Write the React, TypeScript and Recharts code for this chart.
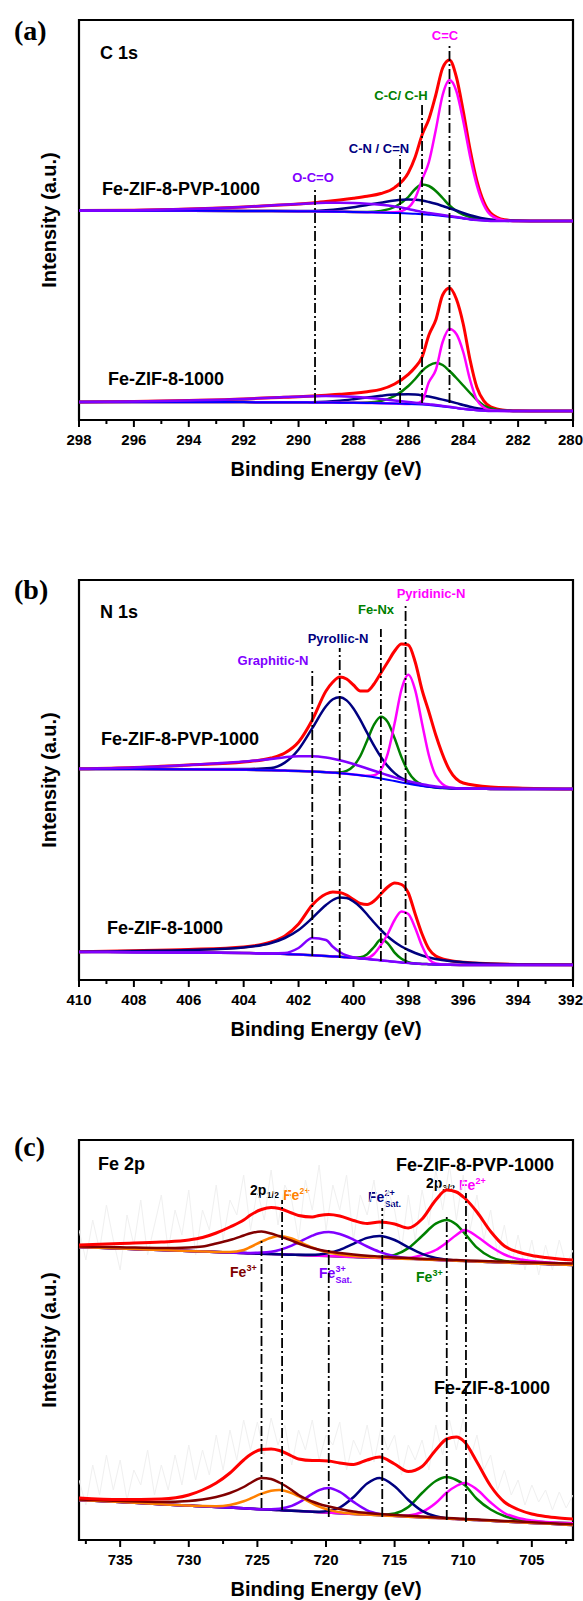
import React from 'react';
import { LineChart, Line, XAxis, YAxis, ReferenceLine, ReferenceArea } from 'recharts';

const SANS = "'Liberation Sans', Arial, Helvetica, sans-serif";
const SERIF = "'Liberation Serif', 'Times New Roman', Times, serif";

const COL = {
  red: '#ff0000', magenta: '#ff00ff', green: '#008000', navy: '#000080',
  violet: '#8000ff', blue: '#0000ff', orange: '#ff8000', wine: '#800000', noise: '#f0f0f0',
};

// ---------- Panel (a): C 1s ----------
const energyA = [298, 296, 294, 292, 291, 290, 289.5, 289, 288.5, 288, 287.5, 287, 286.5, 286, 285.75, 285.5, 285.25, 285, 284.75, 284.5, 284.25, 284, 283.75, 283.5, 283.25, 283, 282.5, 282, 281, 280];
const ticksA = [298, 297, 296, 295, 294, 293, 292, 291, 290, 289, 288, 287, 286, 285, 284, 283, 282, 281, 280];

const aPvpRed = [209.5, 209.8, 211, 213, 214.5, 216, 217.1, 218.5, 220, 221.7, 223.7, 226.5, 232.4, 247.3, 263, 285, 301, 325, 352, 360, 343, 309, 270.4, 238.9, 218.1, 207, 200.3, 199.2, 199, 199];
const aPvpCeqC = [209.3, 209.3, 209.2, 209.1, 209, 208.8, 208.7, 208.5, 208.3, 208.1, 207.8, 207.5, 207.7, 212.6, 221.9, 240.3, 258, 290, 325, 340, 329, 299, 263.6, 234.4, 215, 205, 199.6, 199, 199, 199];
const aPvpCC = [209.3, 209.3, 209.2, 209.1, 209, 208.8, 208.7, 208.5, 208.3, 208.1, 208, 209, 213, 223, 231, 235.5, 234, 229, 222, 214.5, 209, 205.5, 203, 201.3, 200.3, 199.6, 199.2, 199, 199, 199];
const aPvpCN = [209.3, 209.3, 209.2, 209.1, 209, 208.9, 209.1, 209.8, 211, 212.8, 215, 217.3, 219.5, 220.5, 220.3, 219.5, 218, 216.2, 214, 211.8, 209.5, 207, 204.8, 203, 201.5, 200.5, 199.5, 199.2, 199, 199];
const aPvpOCO = [209.3, 209.8, 211, 213, 214.5, 216, 216.8, 217.2, 217.3, 217, 216.3, 215.2, 213.5, 211, 209.5, 208, 207, 206, 205, 204, 203, 201.8, 200.8, 200, 199.4, 199.1, 199, 199, 199, 199];
const aPvpBase = [209.3, 209.3, 209.2, 209.1, 209, 208.8, 208.7, 208.5, 208.3, 208.1, 207.8, 207.5, 207.1, 206.6, 206.2, 205.8, 205.3, 204.8, 204.1, 203.3, 202.4, 201.5, 200.6, 199.9, 199.4, 199.1, 199, 199, 199, 199];

const aZifRed = [18, 18.5, 19.5, 21, 22.3, 23.3, 24, 24.8, 25.8, 26.8, 28.3, 30.6, 36, 45.6, 52.7, 62.9, 85, 100, 125, 132, 121, 96, 60, 32.4, 19.1, 13.1, 9.8, 9.2, 9, 9];
const aZifCeqC = [18, 18, 18, 17.9, 17.8, 17.7, 17.6, 17.5, 17.3, 17.2, 17, 16.8, 16.5, 16.1, 16.5, 19, 38, 50, 78, 91, 86, 68, 40, 20, 12.5, 9.8, 9, 9, 9, 9];
const aZifCC = [18, 18, 18, 17.9, 17.8, 17.7, 17.6, 17.5, 17.3, 17.2, 17.5, 19, 24, 34, 41, 49, 54.5, 57, 55, 49, 42, 34.5, 27, 20, 14.5, 11.5, 9.5, 9, 9, 9];
const aZifCN = [18, 18, 18, 17.9, 17.8, 17.7, 17.8, 18.3, 19.3, 20.8, 22.5, 24.2, 25.5, 25.8, 25.4, 24.6, 23.4, 22, 20.4, 18.7, 16.9, 15, 13.3, 11.8, 10.7, 10, 9.3, 9, 9, 9];
const aZifOCO = [18, 18.5, 19.5, 21, 22.3, 23.3, 23.8, 24, 23.8, 23.2, 22.3, 21, 19.5, 18, 17.2, 16.5, 15.7, 15, 14.1, 13.2, 12.2, 11.2, 10.4, 9.8, 9.4, 9.1, 9, 9, 9, 9];
const aZifBase = [18, 18, 18, 17.9, 17.8, 17.7, 17.6, 17.5, 17.3, 17.2, 17, 16.8, 16.5, 16.1, 15.8, 15.4, 14.9, 14.3, 13.6, 12.8, 11.9, 11, 10.3, 9.7, 9.3, 9.1, 9, 9, 9, 9];

const refLinesA = [
  { e: 289.4, from: 17, to: 230 },
  { e: 286.3, from: 17, to: 265 },
  { e: 285.5, from: 17, to: 318 },
  { e: 284.5, from: 17, to: 374 },
];

// ---------- Panel (b): N 1s ----------
const energyB = [410, 408, 406, 404, 403, 402.5, 402, 401.5, 401, 400.75, 400.5, 400.25, 400, 399.75, 399.5, 399.25, 399, 398.75, 398.5, 398.25, 398, 397.75, 397.5, 397.25, 397, 396.5, 396, 395, 394, 392];
const ticksB = [410, 409, 408, 407, 406, 405, 404, 403, 402, 401, 400, 399, 398, 397, 396, 395, 394, 393, 392];

const bPvpRed = [211.2, 212.5, 215, 218, 222, 227, 238, 260, 289, 298, 303, 301, 295, 289, 289, 296, 307, 318, 329, 336, 335, 318, 290, 268, 245, 210, 197, 193, 192, 191];
const bPvpPyridinic = [211, 211, 210.8, 210.3, 209.8, 209.4, 209, 208.5, 207.8, 207.3, 206.8, 206.2, 205.5, 204.7, 204.2, 204.8, 210.2, 226.4, 256.7, 290.5, 305.2, 289.8, 256.6, 224.5, 204.4, 192.5, 191.4, 191.1, 191, 191];
const bPvpFeNx = [211, 211, 210.8, 210.3, 209.8, 209.4, 209, 208.5, 207.8, 207.5, 207.6, 209.1, 213.9, 224, 239.6, 255.4, 263.3, 257.9, 241.8, 222.9, 208.2, 199.5, 195.4, 193.5, 192.6, 191.8, 191.4, 191.1, 191, 191];
const bPvpPyrrolic = [211, 211, 210.8, 210.9, 212.1, 217.4, 230.5, 251.8, 273.8, 280.7, 282.8, 279.6, 271.5, 260.1, 247.1, 234.4, 223.1, 213.9, 206.9, 201.9, 198.5, 196.1, 194.5, 193.4, 192.7, 191.8, 191.4, 191.1, 191, 191];
const bPvpGraphitic = [211.2, 212.5, 215, 218.5, 221, 222.8, 223.8, 223.8, 222.5, 221.3, 219.8, 218, 216, 213.8, 211.5, 209.2, 207, 204.8, 202.6, 200.6, 198.8, 197.2, 195.8, 194.6, 193.6, 192.3, 191.6, 191.2, 191, 191];
const bPvpBase = [211, 211, 210.8, 210.3, 209.8, 209.4, 209, 208.5, 207.8, 207.3, 206.8, 206.2, 205.5, 204.7, 203.8, 202.8, 201.6, 200.3, 198.9, 197.5, 196.2, 195, 194, 193.2, 192.6, 191.8, 191.4, 191.1, 191, 191];

const bZifRed = [28.3, 29.2, 30.5, 33, 38, 44, 56, 75, 86, 88, 87.5, 85, 80.5, 76.5, 75.5, 79, 86, 93, 97, 95.5, 87, 66, 46, 31, 24, 19.5, 17.8, 16.3, 15.6, 15.2];
const bZifPyridinic = [28, 27.8, 27.5, 27, 26.5, 26, 25.5, 24.8, 24, 23.6, 23.2, 22.7, 22.2, 21.6, 22, 26, 35, 46, 60, 68.5, 66, 52, 34, 21, 16.5, 15.2, 15.1, 15, 15, 15];
const bZifFeNx = [28, 27.8, 27.5, 27, 26.5, 26, 25.5, 24.8, 24, 23.6, 23.2, 22.7, 22.3, 22.7, 25.8, 33, 40.4, 36.7, 27.4, 21.2, 17.8, 16.5, 16.1, 15.8, 15.5, 15.2, 15.1, 15, 15, 15];
const bZifPyrrolic = [28.3, 29, 30, 32.5, 37, 42, 50, 62, 75, 80, 82.5, 82, 78.5, 73, 65.5, 57.5, 50, 43.5, 38, 33.5, 30, 27, 24.5, 22.5, 21, 19, 17.8, 16.3, 15.6, 15.2];
const bZifGraphitic = [28, 27.8, 27.5, 27, 26.5, 26.9, 32, 42, 40, 33.2, 28, 24.5, 22.7, 21.6, 21, 20.3, 19.6, 18.9, 18.2, 17.5, 17, 16.5, 16.1, 15.8, 15.5, 15.2, 15.1, 15, 15, 15];
const bZifBase = [28, 27.8, 27.5, 27, 26.5, 26, 25.5, 24.8, 24, 23.6, 23.2, 22.7, 22.2, 21.6, 21, 20.3, 19.6, 18.9, 18.2, 17.5, 17, 16.5, 16.1, 15.8, 15.5, 15.2, 15.1, 15, 15, 15];

const refLinesB = [
  { e: 401.5, from: 24, to: 312 },
  { e: 400.5, from: 22, to: 332 },
  { e: 399.0, from: 19, to: 351 },
  { e: 398.1, from: 17, to: 374 },
];

// ---------- Panel (c): Fe 2p ----------
const energyC = [738, 735, 732, 730, 729, 728, 727, 726, 725.5, 724.7, 724, 723.4, 722.5, 722, 721, 720.5, 719.8, 719, 718, 717, 716.1, 715, 714, 713, 712, 711.2, 710.5, 709.9, 709, 708, 707, 706, 705, 704, 703, 702];
const ticksC = [737.5, 735, 732.5, 730, 727.5, 725, 722.5, 720, 717.5, 715, 712.5, 710, 707.5, 705, 702.5];

const cPvpRed = [295, 296.5, 298, 300, 302.5, 307, 313, 320, 325, 330.5, 332.5, 331.5, 327, 324.5, 323, 324.5, 325.5, 324, 319.5, 316.5, 318, 316, 312, 321, 340, 350, 348, 342, 328, 308.5, 294, 288, 284.5, 282.5, 281, 280];
const cPvpFe3Low = [293.5, 292.8, 292, 292.5, 293.5, 296.5, 300, 304.5, 306.8, 308.4, 306.5, 303.7, 299.3, 296.5, 292, 290.3, 288.4, 287, 285.5, 284.3, 283.6, 282.6, 281.9, 281.3, 280.7, 280.3, 279.9, 279.6, 279.2, 278.8, 278.4, 278, 277.6, 277.2, 276.8, 276.5];
const cPvpFe2Low = [293, 291.5, 290, 289, 288.5, 288.1, 288, 290, 293, 298.5, 302.3, 304, 301.5, 298.5, 292.5, 290, 287.5, 285.5, 284, 283, 282.4, 281.7, 281.1, 280.6, 280.1, 279.7, 279.3, 279, 278.5, 278, 277.5, 277, 276.5, 276, 275.5, 275];
const cPvpFe3Sat = [293, 291.5, 290, 289, 288.5, 288, 287.5, 287.1, 287.1, 287.4, 288.3, 290, 294.3, 297.6, 304.3, 306.7, 307.9, 306, 300.4, 293.5, 288.2, 283.9, 281.8, 280.7, 280.05, 279.6, 279.25, 278.95, 278.5, 278, 277.5, 277, 276.5, 276, 275.5, 275];
const cPvpFe2Sat = [293, 291.5, 290, 289, 288.5, 288, 287.5, 287, 286.75, 286.35, 286, 285.7, 285.25, 285.2, 285.2, 285.6, 287, 290.1, 296.1, 302.1, 304, 300, 292.7, 286.1, 282, 280.3, 279.5, 279.05, 278.5, 278, 277.5, 277, 276.5, 276, 275.5, 275];
const cPvpFe3High = [293, 291.5, 290, 289, 288.5, 288, 287.5, 287, 286.75, 286.35, 286, 285.7, 285.25, 285, 284.5, 284.25, 283.9, 283.5, 283, 282.6, 282.8, 285.1, 291.9, 304, 316.3, 320, 315.5, 306.7, 292.3, 283, 279, 278, 277.3, 276.6, 276, 275.5];
const cPvpFe2High = [293, 291.5, 290, 289, 288.5, 288, 287.5, 287, 286.75, 286.35, 286, 285.7, 285.25, 285, 284.5, 284.25, 283.9, 283.5, 283, 282.5, 282.1, 281.7, 282, 285, 290, 297.5, 305, 310, 303.5, 293.5, 285.5, 281, 279, 277.8, 276.8, 276];
const cPvpBase = [293, 291.5, 290, 289, 288.5, 288, 287.5, 287, 286.75, 286.35, 286, 285.7, 285.25, 285, 284.5, 284.25, 283.9, 283.5, 283, 282.5, 282.05, 281.5, 281, 280.5, 280, 279.6, 279.25, 278.95, 278.5, 278, 277.5, 277, 276.5, 276, 275.5, 275];

const cZifRed = [42, 40.5, 41, 45, 50, 57, 67, 80, 85.5, 90.5, 91, 89.5, 84, 81, 79.5, 79.5, 79, 77, 75.5, 80, 83, 76, 68.5, 73.5, 90, 101, 103, 98, 78, 54, 38, 30.5, 26, 23.5, 22, 21];
const cZifFe3Low = [40.5, 39, 38, 39, 40.5, 43, 47, 53, 57, 62, 61, 57.5, 50, 45, 38.5, 36, 33.5, 31, 28.5, 27, 26, 25, 24.2, 23.4, 22.6, 22, 21.5, 21.1, 20.5, 19.8, 19.1, 18.4, 17.7, 17, 16.3, 15.8];
const cZifFe2Low = [40, 37.9, 35.8, 34.4, 33.9, 33.8, 35.1, 38.8, 41.5, 46.3, 49.3, 50, 46.9, 43.8, 36.5, 33.3, 30.1, 27.8, 26.3, 25.4, 24.8, 24, 23.3, 22.6, 21.9, 21.4, 20.9, 20.5, 19.9, 19.2, 18.5, 17.8, 17.1, 16.4, 15.7, 15];
const cZifFe3Sat = [40, 37.9, 35.8, 34.4, 33.7, 33, 32.4, 31.7, 31.3, 30.8, 30.8, 31.3, 34.1, 37.3, 46.1, 49.9, 52, 48.1, 38.1, 29.7, 26, 24.1, 23.3, 22.6, 21.9, 21.4, 20.9, 20.5, 19.9, 19.2, 18.5, 17.8, 17.1, 16.4, 15.7, 15];
const cZifFe2Sat = [40, 37.9, 35.8, 34.4, 33.7, 33, 32.4, 31.7, 31.3, 30.8, 30.3, 29.9, 29.2, 28.9, 28.3, 28.3, 29.2, 32.5, 42.8, 56.5, 62, 53.8, 40, 29.1, 23.7, 21.8, 21, 20.5, 19.9, 19.2, 18.5, 17.8, 17.1, 16.4, 15.7, 15];
const cZifFe3High = [40, 37.9, 35.8, 34.4, 33.7, 33, 32.4, 31.7, 31.3, 30.8, 30.3, 29.9, 29.2, 28.9, 28.2, 27.8, 27.4, 26.8, 26.1, 25.6, 25, 26.5, 33, 47, 59, 63, 60, 55, 41, 30.5, 24, 20.5, 18.8, 17.8, 17.2, 16.8];
const cZifFe2High = [40, 37.9, 35.8, 34.4, 33.7, 33, 32.4, 31.7, 31.3, 30.8, 30.3, 29.9, 29.2, 28.9, 28.2, 27.8, 27.4, 26.8, 26.1, 25.4, 24.9, 24.3, 24.5, 28, 37, 47.5, 54, 57, 50.5, 37.5, 27, 22, 19.5, 18, 17.3, 16.8];
const cZifBase = [40, 37.9, 35.8, 34.4, 33.7, 33, 32.4, 31.7, 31.3, 30.8, 30.3, 29.9, 29.2, 28.9, 28.2, 27.8, 27.4, 26.8, 26.1, 25.4, 24.8, 24, 23.3, 22.6, 21.9, 21.4, 20.9, 20.5, 19.9, 19.2, 18.5, 17.8, 17.1, 16.4, 15.7, 15];

// raw (noisy) Fe 2p data, drawn faint grey
const rawEnergyC = [738, 737.5, 737, 736.5, 736, 735.5, 735, 734.5, 734, 733.5, 733, 732.5, 732, 731.5, 731, 730.5, 730, 729.5, 729, 728.5, 728, 727.5, 727, 726.5, 726, 725.5, 725, 724.5, 724, 723.5, 723, 722.5, 722, 721.5, 721, 720.5, 720, 719.5, 719, 718.5, 718, 717.5, 717, 716.5, 716, 715.5, 715, 714.5, 714, 713.5, 713, 712.5, 712, 711.5, 711, 710.5, 710, 709.5, 709, 708.5, 708, 707.5, 707, 706.5, 706, 705.5, 705, 704.5, 704, 703.5, 703, 702.5, 702];
const cPvpRaw = [310, 280, 320, 290, 335, 300, 270, 325, 295, 340, 285, 315, 345, 290, 330, 305, 350, 285, 330, 310, 355, 300, 340, 325, 365, 310, 350, 320, 370, 315, 355, 340, 300, 360, 330, 375, 310, 355, 330, 365, 300, 345, 325, 360, 305, 350, 330, 290, 345, 300, 350, 315, 370, 330, 375, 320, 365, 310, 345, 300, 330, 285, 315, 275, 305, 270, 300, 265, 295, 270, 300, 275, 290];
const cZifRaw = [60, 35, 75, 45, 85, 50, 80, 40, 70, 55, 90, 45, 75, 50, 85, 55, 95, 60, 90, 65, 105, 70, 110, 80, 120, 90, 118, 85, 122, 95, 115, 75, 110, 90, 120, 80, 105, 95, 118, 70, 100, 85, 115, 78, 112, 90, 105, 65, 95, 80, 100, 70, 115, 85, 120, 90, 122, 80, 105, 70, 85, 50, 70, 45, 60, 35, 55, 38, 50, 30, 48, 32, 45];

const refLinesC = [
  { e: 724.7, from: 32, to: 300 },
  { e: 723.2, from: 30, to: 340 },
  { e: 719.8, from: 23, to: 290 },
  { e: 715.9, from: 23, to: 332 },
  { e: 711.2, from: 20, to: 323 },
  { e: 709.8, from: 18, to: 347 },
];

type SeriesDef = { key: string; values: number[]; color: string; width: number };
type RefDef = { e: number; from: number; to: number };

function buildRows(energy: number[], series: SeriesDef[]) {
  return energy.map((e, i) => {
    const row: Record<string, number> = { e };
    series.forEach((s) => { row[s.key] = s.values[i]; });
    return row;
  });
}

function renderTick(props: any, majorStep: number) {
  const { x, y, payload } = props;
  const v = payload.value as number;
  const isMajor = Math.abs(v / majorStep - Math.round(v / majorStep)) < 1e-6;
  const nearRight = x > 560;
  return (
    <g>
      <line x1={x} y1={y} x2={x} y2={y + (isMajor ? 7 : 4)} stroke="#000" strokeWidth={2} />
      {isMajor && (
        <text
          x={nearRight ? 583 : x}
          y={y + 25}
          textAnchor={nearRight ? 'end' : 'middle'}
          fontFamily={SANS}
          fontWeight="bold"
          fontSize={15}
          fill="#000"
        >
          {v}
        </text>
      )}
    </g>
  );
}

type PanelProps = {
  top: number;
  domain: [number, number];
  ticks: number[];
  majorStep: number;
  energy: number[];
  series: SeriesDef[];
  raw?: { energy: number[]; values: number[] }[];
  refs: RefDef[];
  label: string;
  labelY: number;
  children?: React.ReactNode;
};

function Panel({ top, domain, ticks, majorStep, energy, series, raw, refs, label, labelY, children }: PanelProps) {
  const rows = buildRows(energy, series);
  return (
    <div style={{ position: 'absolute', left: 0, top, width: 583, height: 485 }}>
      <LineChart width={583} height={485} data={rows} margin={{ top: 20, right: 10, bottom: 4, left: 79 }}>
        <XAxis
          dataKey="e"
          type="number"
          domain={domain}
          reversed
          allowDataOverflow
          ticks={ticks}
          interval={0}
          height={61}
          axisLine={false}
          tickLine={false}
          tickSize={0}
          tickMargin={0}
          tick={(p: any) => renderTick(p, majorStep)}
        />
        <YAxis type="number" domain={[0, 400]} hide allowDataOverflow />
        {(raw || []).map((r, i) => (
          <Line
            key={'raw' + i}
            data={r.energy.map((e, j) => ({ e, v: r.values[j] }))}
            dataKey="v"
            type="linear"
            stroke={COL.noise}
            strokeWidth={1}
            dot={false}
            activeDot={false}
            isAnimationActive={false}
          />
        ))}
        {series.map((s) => (
          <Line
            key={s.key}
            dataKey={s.key}
            type="monotone"
            stroke={s.color}
            strokeWidth={s.width}
            dot={false}
            activeDot={false}
            isAnimationActive={false}
          />
        ))}
        {refs.map((r, i) => (
          <ReferenceLine
            key={'ref' + i}
            segment={[{ x: r.e, y: r.from }, { x: r.e, y: r.to }]}
            stroke="#000"
            strokeWidth={1.8}
            strokeDasharray="10 3 2 3"
            ifOverflow="visible"
          />
        ))}
        <ReferenceArea x1={domain[0]} x2={domain[1]} y1={0} y2={400} fill="none" stroke="#000" strokeWidth={2.2} ifOverflow="visible" />
        <g>
          <text x={14} y={labelY} fontFamily={SERIF} fontWeight="bold" fontSize={28} fill="#000">{label}</text>
          <text x={56} y={220} transform="rotate(-90 56 220)" textAnchor="middle" fontFamily={SANS} fontWeight="bold" fontSize={20} fill="#000">
            Intensity (a.u.)
          </text>
          <text x={326} y={476} textAnchor="middle" fontFamily={SANS} fontWeight="bold" fontSize={20} fill="#000">
            Binding Energy (eV)
          </text>
          {children}
        </g>
      </LineChart>
    </div>
  );
}

const T = (props: { x: number; y: number; fill?: string; size?: number; anchor?: 'start' | 'middle' | 'end'; children: React.ReactNode }) => (
  <text x={props.x} y={props.y} fill={props.fill || '#000'} fontSize={props.size || 13} fontFamily={SANS} fontWeight="bold" textAnchor={props.anchor || 'start'}>
    {props.children}
  </text>
);

const FeIon = ({ x, y, color, sup, sub }: { x: number; y: number; color: string; sup: string; sub?: string }) => (
  <g>
    <T x={x} y={y} fill={color} size={14}>Fe</T>
    <T x={x + 16.5} y={y - 6} fill={color} size={9}>{sup}</T>
    {sub ? <T x={x + 16.5} y={y + 5} fill={color} size={9}>{sub}</T> : null}
  </g>
);

export default function App() {
  const seriesA: SeriesDef[] = [
    { key: 'pRed', values: aPvpRed, color: COL.red, width: 3 },
    { key: 'pCC', values: aPvpCC, color: COL.green, width: 2.5 },
    { key: 'pCN', values: aPvpCN, color: COL.navy, width: 2.5 },
    { key: 'pCeqC', values: aPvpCeqC, color: COL.magenta, width: 2.5 },
    { key: 'pBase', values: aPvpBase, color: COL.blue, width: 2 },
    { key: 'pOCO', values: aPvpOCO, color: COL.violet, width: 2.5 },
    { key: 'zRed', values: aZifRed, color: COL.red, width: 3 },
    { key: 'zCC', values: aZifCC, color: COL.green, width: 2.5 },
    { key: 'zCN', values: aZifCN, color: COL.navy, width: 2.5 },
    { key: 'zCeqC', values: aZifCeqC, color: COL.magenta, width: 2.5 },
    { key: 'zBase', values: aZifBase, color: COL.blue, width: 2 },
    { key: 'zOCO', values: aZifOCO, color: COL.violet, width: 2.5 },
  ];
  const seriesB: SeriesDef[] = [
    { key: 'pRed', values: bPvpRed, color: COL.red, width: 3 },
    { key: 'pFeNx', values: bPvpFeNx, color: COL.green, width: 2.5 },
    { key: 'pPyr', values: bPvpPyrrolic, color: COL.navy, width: 2.5 },
    { key: 'pPyd', values: bPvpPyridinic, color: COL.magenta, width: 2.5 },
    { key: 'pBase', values: bPvpBase, color: COL.blue, width: 2 },
    { key: 'pGra', values: bPvpGraphitic, color: COL.violet, width: 2.5 },
    { key: 'zRed', values: bZifRed, color: COL.red, width: 3 },
    { key: 'zFeNx', values: bZifFeNx, color: COL.green, width: 2.5 },
    { key: 'zPyr', values: bZifPyrrolic, color: COL.navy, width: 2.5 },
    { key: 'zPyd', values: bZifPyridinic, color: COL.magenta, width: 2.5 },
    { key: 'zBase', values: bZifBase, color: COL.blue, width: 2 },
    { key: 'zGra', values: bZifGraphitic, color: COL.violet, width: 2.5 },
  ];
  const seriesC: SeriesDef[] = [
    { key: 'pBase', values: cPvpBase, color: COL.blue, width: 2 },
    { key: 'pFe3H', values: cPvpFe3High, color: COL.green, width: 2.5 },
    { key: 'pFe2H', values: cPvpFe2High, color: COL.magenta, width: 2.5 },
    { key: 'pFe2S', values: cPvpFe2Sat, color: COL.navy, width: 2.5 },
    { key: 'pFe3S', values: cPvpFe3Sat, color: COL.violet, width: 2.5 },
    { key: 'pFe2L', values: cPvpFe2Low, color: COL.orange, width: 2.5 },
    { key: 'pFe3L', values: cPvpFe3Low, color: COL.wine, width: 2.5 },
    { key: 'pRed', values: cPvpRed, color: COL.red, width: 3 },
    { key: 'zBase', values: cZifBase, color: COL.blue, width: 2 },
    { key: 'zFe3H', values: cZifFe3High, color: COL.green, width: 2.5 },
    { key: 'zFe2H', values: cZifFe2High, color: COL.magenta, width: 2.5 },
    { key: 'zFe2S', values: cZifFe2Sat, color: COL.navy, width: 2.5 },
    { key: 'zFe3S', values: cZifFe3Sat, color: COL.violet, width: 2.5 },
    { key: 'zFe2L', values: cZifFe2Low, color: COL.orange, width: 2.5 },
    { key: 'zFe3L', values: cZifFe3Low, color: COL.wine, width: 2.5 },
    { key: 'zRed', values: cZifRed, color: COL.red, width: 3 },
  ];

  return (
    <div style={{ position: 'absolute', left: 0, top: 0, width: 583, height: 1601, background: '#fff', overflow: 'hidden' }}>
      <Panel top={0} domain={[280, 298]} ticks={ticksA} majorStep={2} energy={energyA} series={seriesA} refs={refLinesA} label="(a)" labelY={40}>
        <T x={100} y={58.5} size={18}>C 1s</T>
        <T x={102} y={194.5} size={18}>Fe-ZIF-8-PVP-1000</T>
        <T x={108} y={384.5} size={18}>Fe-ZIF-8-1000</T>
        <T x={445} y={39.5} fill={COL.magenta} anchor="middle">C=C</T>
        <T x={401} y={99.5} fill={COL.green} anchor="middle">C-C/ C-H</T>
        <T x={379} y={152.5} fill={COL.navy} anchor="middle">C-N / C=N</T>
        <T x={313} y={181.5} fill={COL.violet} anchor="middle">O-C=O</T>
      </Panel>
      <Panel top={560} domain={[392, 410]} ticks={ticksB} majorStep={2} energy={energyB} series={seriesB} refs={refLinesB} label="(b)" labelY={39}>
        <T x={100} y={57.5} size={18}>N 1s</T>
        <T x={101} y={184.5} size={18}>Fe-ZIF-8-PVP-1000</T>
        <T x={107} y={373.5} size={18}>Fe-ZIF-8-1000</T>
        <T x={273} y={104.5} fill={COL.violet} anchor="middle">Graphitic-N</T>
        <T x={338} y={82.5} fill={COL.navy} anchor="middle">Pyrollic-N</T>
        <T x={376} y={53.5} fill={COL.green} anchor="middle">Fe-Nx</T>
        <T x={431} y={37.5} fill={COL.magenta} anchor="middle">Pyridinic-N</T>
      </Panel>
      <Panel
        top={1120}
        domain={[702, 738]}
        ticks={ticksC}
        majorStep={5}
        energy={energyC}
        series={seriesC}
        raw={[{ energy: rawEnergyC, values: cPvpRaw }, { energy: rawEnergyC, values: cZifRaw }]}
        refs={refLinesC}
        label="(c)"
        labelY={36}
      >
        <T x={98} y={49.5} size={18}>Fe 2p</T>
        <T x={554} y={51} size={18} anchor="end">Fe-ZIF-8-PVP-1000</T>
        <T x={550} y={273.5} size={18} anchor="end">Fe-ZIF-8-1000</T>
        <T x={250} y={75} size={14}>2p</T>
        <T x={266.5} y={78} size={9}>1/2</T>
        <FeIon x={283} y={80} color={COL.orange} sup="2+" />
        <FeIon x={368} y={82} color={COL.navy} sup="2+" sub="Sat." />
        <T x={426} y={68} size={14}>2p</T>
        <T x={442.5} y={71} size={9}>3/2</T>
        <FeIon x={459} y={70} color={COL.magenta} sup="2+" />
        <FeIon x={230} y={157} color={COL.wine} sup="3+" />
        <FeIon x={319} y={158} color={COL.violet} sup="3+" sub="Sat." />
        <FeIon x={416} y={162} color={COL.green} sup="3+" />
      </Panel>
    </div>
  );
}
